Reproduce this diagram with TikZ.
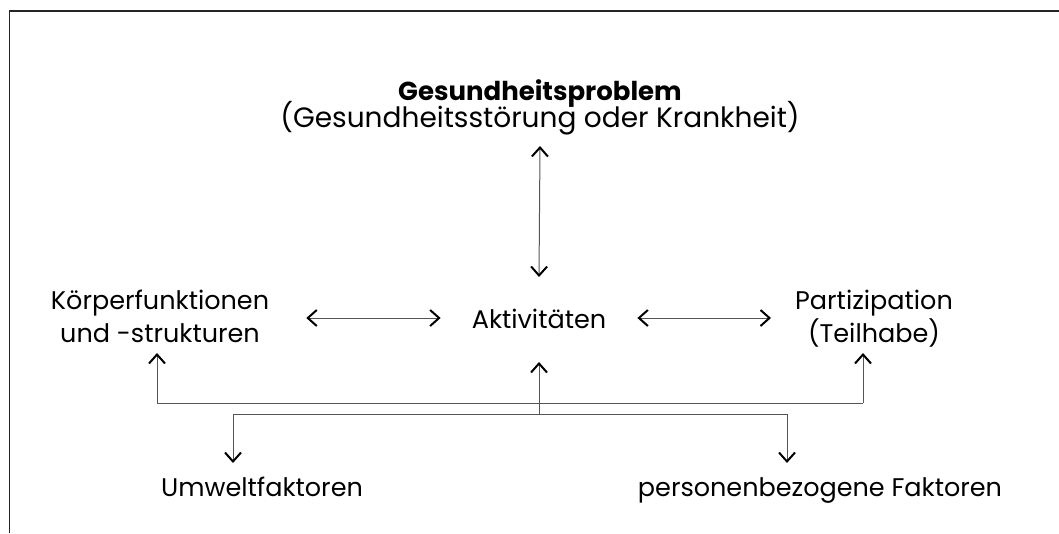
\documentclass[tikz,border=0pt]{standalone}
\usepackage{fontspec}
\setmainfont{Poppins}
\usetikzlibrary{positioning, arrows.meta, calc}
\definecolor{shaftgray}{HTML}{555555}

\tikzset{
  lbl/.style={font=\fontsize{25.5}{33}\selectfont, align=center, inner sep=0pt},
  tip/.tip={Straight Barb[length=9pt, width=16pt, line width=2pt, color=black]},
  link/.style={line width=1pt, draw=shaftgray},
  arr/.style={link, -tip},
  dblarr/.style={link, tip-tip},
}

\begin{document}
\begin{tikzpicture}[x=1pt, y=-1pt]
  \useasboundingbox (0,0) rectangle (1059,533);
  % frame
  \draw[line width=1.4pt, black!85] (9.5,533) -- (9.5,11) -- (1059,11);

  % labels
  \node[lbl, font=\fontsize{26}{29}\selectfont, anchor=north] (gesund) at (540,79)
    {\textbf{Gesundheitsproblem}\\[-7pt]{\fontsize{28}{29}\selectfont(Gesundheitsstörung oder Krankheit)}};
  \node[lbl, anchor=base] (akt) at (539,328) {Aktivitäten};
  \node[lbl, anchor=north] (koerper) at (160,290) {Körperfunktionen\\und -strukturen};
  \node[lbl, anchor=north] (teil) at (874,290) {Partizipation\\(Teilhabe)};
  \node[lbl, anchor=base] (umwelt) at (262,496) {Umweltfaktoren};
  \node[lbl, anchor=base] (person) at (820,496) {personenbezogene Faktoren};

  % tips and junctions
  \coordinate (split) at (539,403);
  \coordinate (join) at (539,414);
  \coordinate (kTip) at (157,353);
  \coordinate (tTip) at (863,353);
  \coordinate (aTip) at (539,362);
  \coordinate (uTip) at (233,463);
  \coordinate (pTip) at (787,463);

  % upper connectors
  \draw[dblarr] (gesund.south |- 0,146) -- (akt.north |- 0,277);
  \draw[dblarr] (koerper.east |- 0,318) ++(37,0) -- ($(akt.west |- 0,318)+(-31,0)$);
  \draw[dblarr] (akt.east |- 0,318) ++(31,0) -- ($(teil.west |- 0,318)+(-24,0)$);

  % lower connectors
  \draw[link] (kTip |- split) -- (tTip |- split);
  \draw[arr] (kTip |- split) -- (kTip);
  \draw[arr] (tTip |- split) -- (tTip);
  \draw[arr] (join) -- (aTip);
  \draw[arr] (join) -| (uTip);
  \draw[arr] (join) -| (pTip);
\end{tikzpicture}
\end{document}
